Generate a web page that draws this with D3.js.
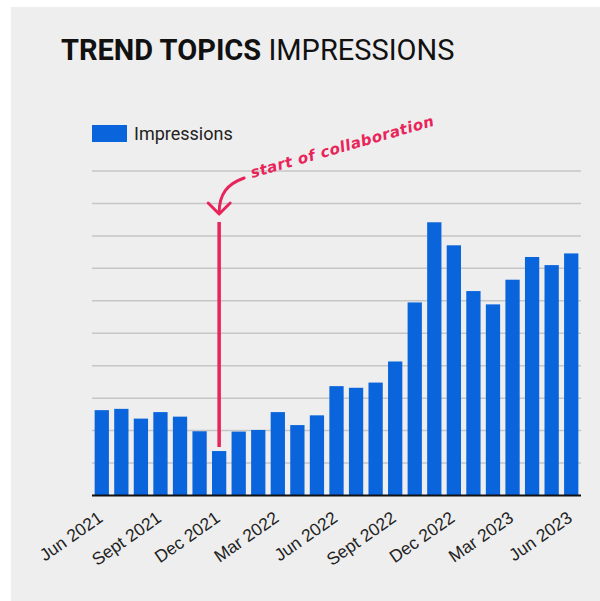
<!DOCTYPE html>
<html>
<head>
<meta charset="utf-8">
<script src="https://cdn.jsdelivr.net/npm/d3@7"></script>
<style>
  body { margin: 0; background: #fff; }
</style>
</head>
<body>
<div class="chartdiv"></div>
<script>
const WIDTH = 600, HEIGHT = 601;

// monthly impressions, in gridline units (axis has no labels)
const months = [
  "Jun 2021", "Jul 2021", "Aug 2021", "Sept 2021", "Oct 2021", "Nov 2021",
  "Dec 2021", "Jan 2022", "Feb 2022", "Mar 2022", "Apr 2022", "May 2022",
  "Jun 2022", "Jul 2022", "Aug 2022", "Sept 2022", "Oct 2022", "Nov 2022",
  "Dec 2022", "Jan 2023", "Feb 2023", "Mar 2023", "Apr 2023", "May 2023",
  "Jun 2023"
];
const impressions = [
  2.63, 2.67, 2.37, 2.57, 2.43, 1.98, 1.37, 1.97, 2.02, 2.57, 2.17, 2.47,
  3.37, 3.32, 3.48, 4.13, 5.95, 8.42, 7.71, 6.30, 5.89, 6.65, 7.35, 7.10,
  7.46
];
const tickLabels = [
  "Jun 2021", "Sept 2021", "Dec 2021", "Mar 2022", "Jun 2022",
  "Sept 2022", "Dec 2022", "Mar 2023", "Jun 2023"
];
const gridValues = [1, 2, 3, 4, 5, 6, 7, 8, 9, 10];
const annotationMonth = "Dec 2021";

const BLUE = "#0a64dc", RED = "#e8245a";

var svg = d3
  .select(".chartdiv")
  .append("svg")
  .attr("width", WIDTH)
  .attr("height", HEIGHT)
  .style("display", "block");

// grey panel
svg.append("rect")
  .attr("x", 11).attr("y", 7)
  .attr("width", WIDTH - 11).attr("height", HEIGHT - 7)
  .attr("fill", "#eeeeee");

const x = d3.scaleBand()
  .domain(months)
  .range([92, 581])
  .paddingInner(0.27)
  .paddingOuter(0.135);

const y = d3.scaleLinear()
  .domain([0, 10])
  .range([495.5, 171]);

// title
const title = svg.append("text")
  .attr("x", 61).attr("y", 60)
  .style("font-family", "Roboto")
  .style("font-size", "29px")
  .attr("fill", "#111");
title.append("tspan").attr("font-weight", "bold").text("TREND TOPICS");
title.append("tspan").text(" IMPRESSIONS");

// legend
svg.append("rect")
  .attr("x", 92).attr("y", 125)
  .attr("width", 35).attr("height", 17)
  .attr("fill", BLUE);
svg.append("text")
  .attr("x", 134).attr("y", 140)
  .style("font-family", "Roboto")
  .style("font-size", "18px")
  .attr("fill", "#222")
  .text("Impressions");

// gridlines
svg.append("g")
  .selectAll("line")
  .data(gridValues)
  .join("line")
  .attr("x1", 92).attr("x2", 581)
  .attr("y1", d => y(d)).attr("y2", d => y(d))
  .attr("stroke", "#c6c6c6")
  .attr("stroke-width", 1.5);

// bars
svg.append("g")
  .selectAll("rect")
  .data(months)
  .join("rect")
  .attr("x", d => x(d))
  .attr("y", (d, i) => y(impressions[i]))
  .attr("width", x.bandwidth())
  .attr("height", (d, i) => y(0) - y(impressions[i]))
  .attr("fill", BLUE);

// x axis
const xAxis = svg.append("g")
  .attr("transform", `translate(0,${y(0)})`)
  .call(d3.axisBottom(x).tickValues(tickLabels).tickSize(0).tickPadding(0));
xAxis.select(".domain")
  .attr("d", "M92,0H581")
  .attr("stroke", "#111")
  .attr("stroke-width", 2);
xAxis.selectAll("text")
  .style("font-family", "Liberation Sans, Arial")
  .style("font-size", "17.5px")
  .attr("fill", "#222")
  .attr("text-anchor", "end")
  .attr("dy", null)
  .attr("y", 0)
  .attr("transform", d => `translate(${x.bandwidth() / 2 - 5},25) rotate(-35)`);

// annotation
const ax = x(annotationMonth) + x.bandwidth() / 2;
const ai = months.indexOf(annotationMonth);
svg.append("line")
  .attr("x1", ax).attr("x2", ax)
  .attr("y1", 222).attr("y2", y(impressions[ai]) - 4)
  .attr("stroke", RED)
  .attr("stroke-width", 3.5);
svg.append("path")
  .attr("d", `M${ax + 25},178 C${ax + 8},184 ${ax},194 ${ax},213`)
  .attr("fill", "none")
  .attr("stroke", RED)
  .attr("stroke-width", 3)
  .attr("stroke-linecap", "round");
svg.append("path")
  .attr("d", `M${ax - 11},203 L${ax},214 L${ax + 11},203`)
  .attr("fill", "none")
  .attr("stroke", RED)
  .attr("stroke-width", 3)
  .attr("stroke-linecap", "round")
  .attr("stroke-linejoin", "round");
svg.append("text")
  .attr("transform", `translate(${ax + 33},178) rotate(-16)`)
  .style("font-family", "DejaVu Sans")
  .style("font-style", "italic")
  .style("font-weight", "bold")
  .style("font-size", "15px")
  .style("letter-spacing", "0.5px")
  .attr("fill", RED)
  .text("start of collaboration");
</script>
</body>
</html>
